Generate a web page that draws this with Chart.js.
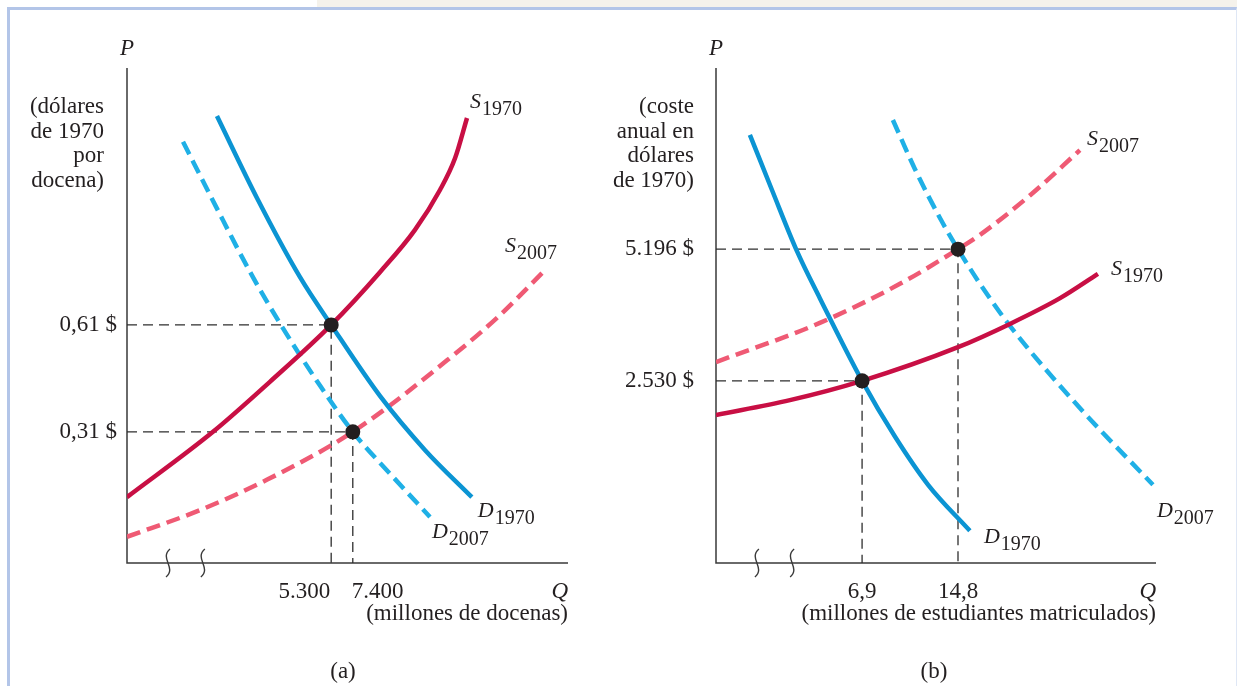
<!DOCTYPE html>
<html>
<head>
<meta charset="utf-8">
<script src="https://cdn.jsdelivr.net/npm/chart.js@4.4.1/dist/chart.umd.min.js"></script>
<style>
  html, body { margin: 0; padding: 0; background: #fff; }
  body { width: 1237px; height: 686px; position: relative; overflow: hidden; }
  #strip { position: absolute; left: 317px; top: 0; width: 920px; height: 7px; background: #f5f2eb; }
  #frame { position: absolute; left: 7px; top: 7px; width: 1230px; height: 700px; box-sizing: border-box;
           border-top: 3px solid #b3c5e8; border-left: 3px solid #b3c5e8; border-right: 1px solid #dfe7f5; }
  canvas { position: absolute; top: 0; }
  #panelA { left: 0; }
  #panelB { left: 600px; }
</style>
</head>
<body>
<div id="strip"></div>
<div id="frame"></div>
<canvas id="panelA" width="600" height="686"></canvas>
<canvas id="panelB" width="637" height="686"></canvas>
<script>
// (a) huevos: cantidad (Q) y precio (P) en unidades del gráfico
const s1970aQ = [0, 1.95, 3.24, 4.63, 5.74, 6.53, 7.10, 7.44, 7.71];
const s1970aP = [1.33, 2.65, 3.66, 4.81, 5.88, 6.73, 7.54, 8.18, 8.99];
const s2007aQ = [0, 1.66, 3.17, 5.12, 7.32, 8.46, 9.48];
const s2007aP = [0.53, 1.07, 1.68, 2.65, 4.14, 5.01, 5.92];
const d1970aQ = [2.04, 2.95, 3.92, 4.63, 5.74, 6.76, 7.82];
const d1970aP = [9.03, 7.37, 5.78, 4.81, 3.37, 2.28, 1.33];
const d2007aQ = [1.27, 2.00, 2.79, 3.49, 4.38, 5.12, 6.01, 6.87];
const d2007aP = [8.51, 7.23, 5.88, 4.81, 3.58, 2.65, 1.76, 0.93];
const eqAQ = [4.63, 5.12];
const eqAP = [4.81, 2.65];
const priceTicksA = ["0,61 $", "0,31 $"];
const qtyTicksA = ["5.300", "7.400"];

// (b) universidad
const s1970bQ = [0, 1.68, 3.32, 5.5, 6.68, 7.82, 8.68];
const s1970bP = [2.99, 3.29, 3.68, 4.36, 4.83, 5.35, 5.84];
const s2007bQ = [0, 2.36, 4.18, 5.5, 6.0, 7.14, 8.27];
const s2007bP = [4.06, 4.85, 5.64, 6.34, 6.63, 7.43, 8.34];
const d1970bQ = [0.77, 1.27, 1.84, 2.36, 3.32, 4.07, 4.82, 5.77];
const d1970bP = [8.65, 7.54, 6.30, 5.35, 3.68, 2.55, 1.58, 0.65];
const d2007bQ = [4.02, 4.52, 5.09, 5.5, 6.0, 6.68, 8.27, 9.93];
const d2007bP = [8.95, 7.96, 6.97, 6.34, 5.64, 4.79, 3.13, 1.58];
const eqBQ = [3.32, 5.5];
const eqBP = [3.68, 6.34];
const priceTicksB = ["2.530 $", "5.196 $"];
const qtyTicksB = ["6,9", "14,8"];

const SERIF = '"Liberation Serif", "Times New Roman", serif';
const CRIMSON = "#c80f44";
const PINK = "#ef5a74";
const BLUE = "#0b94d3";
const LIGHTBLUE = "#1fb0e6";

function pts(q, p) {
  return q.map((x, i) => ({ x: x, y: p[i] }));
}

function curve(q, p, color, dashed) {
  return {
    data: pts(q, p),
    showLine: true,
    borderColor: color,
    borderWidth: 4.5,
    borderDash: dashed ? [14, 7] : [],
    pointRadius: 0,
    cubicInterpolationMode: "monotone",
    fill: false
  };
}

function guide(q, p) {
  return {
    data: [{ x: 0, y: p }, { x: q, y: p }, { x: q, y: 0 }],
    showLine: true,
    borderColor: "#2e2e2e",
    borderWidth: 1.3,
    borderDash: [10, 6],
    pointRadius: 0,
    tension: 0
  };
}

function drawSub(ctx, letter, sub, x, y) {
  ctx.textAlign = "left";
  ctx.textBaseline = "alphabetic";
  ctx.font = "italic 22px " + SERIF;
  ctx.fillText(letter, x, y);
  const w = ctx.measureText(letter).width;
  ctx.font = "20px " + SERIF;
  ctx.fillText(sub, x + w + 1, y + 7);
}

const overlay = {
  id: "overlay",
  beforeDatasetsDraw(chart, args, o) {
    const { ctx, chartArea: a } = chart;
    const xs = chart.scales.x;
    ctx.save();
    ctx.strokeStyle = "#3a3a3a";
    ctx.lineWidth = 1.5;
    ctx.beginPath();
    ctx.moveTo(a.left, a.top);
    ctx.lineTo(a.left, a.bottom);
    ctx.lineTo(a.right, a.bottom);
    ctx.stroke();
    // marcas de corte del eje
    ctx.lineWidth = 1.4;
    o.breaks.forEach(v => {
      const x = xs.getPixelForValue(v);
      const y = a.bottom;
      ctx.beginPath();
      ctx.moveTo(x + 2, y - 14);
      ctx.bezierCurveTo(x - 9, y - 5, x + 9, y + 5, x - 2, y + 14);
      ctx.stroke();
    });
    ctx.restore();
  },
  afterDatasetsDraw(chart, args, o) {
    const { ctx, chartArea: a } = chart;
    const xs = chart.scales.x, ys = chart.scales.y;
    ctx.save();
    ctx.fillStyle = "#231f20";
    // P y Q
    ctx.font = "italic 23px " + SERIF;
    ctx.textAlign = "center";
    ctx.fillText("P", a.left, 55);
    ctx.textAlign = "right";
    ctx.fillText("Q", a.right, 598);
    ctx.font = "23px " + SERIF;
    ctx.fillText(o.xTitle, a.right, 620);
    ctx.textAlign = "center";
    ctx.fillText(o.panel, o.panelX, 678);
    // título del eje vertical
    ctx.textAlign = "right";
    o.yTitle.forEach((line, i) => ctx.fillText(line, a.left - o.titleGap, 113 + i * 24.5));
    // marcas de precio
    ctx.textBaseline = "middle";
    o.pTicks.forEach((t, i) => ctx.fillText(t, a.left - o.tickGap, ys.getPixelForValue(o.pVals[i])));
    // marcas de cantidad
    ctx.textBaseline = "alphabetic";
    o.qTicks.forEach((t, i) => {
      const x = xs.getPixelForValue(o.qVals[i]);
      ctx.textAlign = o.qAlign[i];
      const shift = o.qAlign[i] === "center" ? 0 : -1;
      ctx.fillText(t, x + shift, 598);
    });
    // etiquetas de curvas
    o.curveLabels.forEach(l => {
      const d = chart.data.datasets[l.ds].data;
      const end = d[d.length - 1];
      drawSub(ctx, l.letter, l.year, xs.getPixelForValue(end.x) + l.dx, ys.getPixelForValue(end.y) + l.dy);
    });
    ctx.restore();
  }
};

function makePanel(id, cfg) {
  return new Chart(document.getElementById(id), {
    type: "scatter",
    data: {
      datasets: [
        {
          data: pts(cfg.eqQ, cfg.eqP),
          pointRadius: 7.5,
          pointBackgroundColor: "#231f20",
          pointBorderWidth: 0,
          showLine: false
        },
        curve(cfg.s1970Q, cfg.s1970P, CRIMSON, false),
        curve(cfg.d1970Q, cfg.d1970P, BLUE, false),
        curve(cfg.s2007Q, cfg.s2007P, PINK, true),
        curve(cfg.d2007Q, cfg.d2007P, LIGHTBLUE, true),
        guide(cfg.eqQ[0], cfg.eqP[0]),
        guide(cfg.eqQ[1], cfg.eqP[1])
      ]
    },
    options: {
      responsive: false,
      animation: false,
      devicePixelRatio: 1,
      layout: { padding: cfg.padding },
      scales: {
        x: { type: "linear", min: 0, max: 10, display: false },
        y: { type: "linear", min: 0, max: 10, display: false }
      },
      plugins: {
        legend: { display: false },
        tooltip: { enabled: false },
        overlay: cfg.overlay
      }
    },
    plugins: [overlay]
  });
}

makePanel("panelA", {
  s1970Q: s1970aQ, s1970P: s1970aP, s2007Q: s2007aQ, s2007P: s2007aP,
  d1970Q: d1970aQ, d1970P: d1970aP, d2007Q: d2007aQ, d2007P: d2007aP,
  eqQ: eqAQ, eqP: eqAP,
  padding: { left: 127, right: 32, top: 68, bottom: 123 },
  overlay: {
    breaks: [0.93, 1.72],
    xTitle: "(millones de docenas)",
    yTitle: ["(dólares", "de 1970", "por", "docena)"],
    titleGap: 23, tickGap: 10,
    panel: "(a)", panelX: 343,
    pTicks: priceTicksA, pVals: eqAP,
    qTicks: qtyTicksA, qVals: eqAQ, qAlign: ["right", "left"],
    curveLabels: [
      { ds: 1, letter: "S", year: "1970", dx: 3, dy: -10 },
      { ds: 3, letter: "S", year: "2007", dx: -40, dy: -18 },
      { ds: 2, letter: "D", year: "1970", dx: 6, dy: 20 },
      { ds: 4, letter: "D", year: "2007", dx: 2, dy: 21 }
    ]
  }
});

makePanel("panelB", {
  s1970Q: s1970bQ, s1970P: s1970bP, s2007Q: s2007bQ, s2007P: s2007bP,
  d1970Q: d1970bQ, d1970P: d1970bP, d2007Q: d2007bQ, d2007P: d2007bP,
  eqQ: eqBQ, eqP: eqBP,
  padding: { left: 116, right: 81, top: 68, bottom: 123 },
  overlay: {
    breaks: [0.93, 1.73],
    xTitle: "(millones de estudiantes matriculados)",
    yTitle: ["(coste", "anual en", "dólares", "de 1970)"],
    titleGap: 22, tickGap: 22,
    panel: "(b)", panelX: 334,
    pTicks: priceTicksB, pVals: eqBP,
    qTicks: qtyTicksB, qVals: eqBQ, qAlign: ["center", "center"],
    curveLabels: [
      { ds: 1, letter: "S", year: "1970", dx: 13, dy: 1 },
      { ds: 3, letter: "S", year: "2007", dx: 7, dy: -5 },
      { ds: 2, letter: "D", year: "1970", dx: 14, dy: 12 },
      { ds: 4, letter: "D", year: "2007", dx: 4, dy: 32 }
    ]
  }
});
</script>
</body>
</html>
